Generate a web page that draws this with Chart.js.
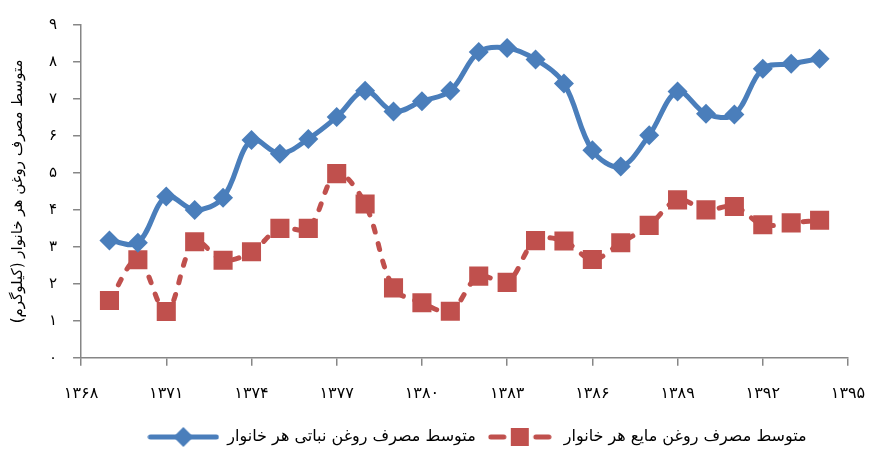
<!DOCTYPE html>
<html>
<head>
<meta charset="utf-8">
<script src="https://cdn.jsdelivr.net/npm/chart.js@4"></script>
<style>
  html, body { margin: 0; padding: 0; background: #fff; }
  #wrap { width: 869px; height: 450px; }
</style>
</head>
<body>
<div id="wrap"><canvas id="oilChart" width="869" height="450"></canvas></div>
<script>
// years 1369..1394
const years = [1369, 1370, 1371, 1372, 1373, 1374, 1375, 1376, 1377, 1378, 1379, 1380, 1381,
               1382, 1383, 1384, 1385, 1386, 1387, 1388, 1389, 1390, 1391, 1392, 1393, 1394];
// vegetable oil (kg)
const vegOil = [3.17, 3.11, 4.36, 4.0, 4.33, 5.89, 5.52, 5.92, 6.51, 7.22, 6.66, 6.94, 7.22,
                8.27, 8.38, 8.07, 7.42, 5.61, 5.17, 6.02, 7.2, 6.6, 6.58, 7.82, 7.95, 8.09];
// liquid oil (kg)
const liquidOil = [1.55, 2.65, 1.25, 3.14, 2.64, 2.87, 3.5, 3.5, 4.98, 4.16, 1.89, 1.49, 1.26,
                   2.21, 2.04, 3.17, 3.16, 2.66, 3.11, 3.58, 4.27, 4.0, 4.09, 3.6, 3.65, 3.72];
const seriesNames = ['متوسط مصرف روغن نباتی هر خانوار', 'متوسط مصرف روغن مایع هر خانوار'];
const yTitle = 'متوسط مصرف روغن هر خانوار (کیلوگرم)';
const xMin = 1368, xMax = 1395, xStep = 3;
const yMin = 0, yMax = 9;

const BLUE = '#4a7ebb';
const RED = '#c0504d';
const FONT = "'DejaVu Sans', sans-serif";

/* ===== helpers ===== */
function toFa(n) {
  return String(n).replace(/\d/g, d => '۰۱۲۳۴۵۶۷۸۹'[d]);
}
function pts(vals) {
  return years.map((y, i) => ({ x: y, y: vals[i] }));
}

// little legend symbols (line + marker)
function blueSymbol() {
  const c = document.createElement('canvas');
  c.width = 72; c.height = 22;
  const g = c.getContext('2d');
  g.strokeStyle = BLUE; g.lineWidth = 5; g.lineCap = 'round';
  g.beginPath(); g.moveTo(3, 11); g.lineTo(69, 11); g.stroke();
  g.fillStyle = BLUE;
  g.beginPath(); g.moveTo(36, 1); g.lineTo(46, 11); g.lineTo(36, 21); g.lineTo(26, 11); g.closePath(); g.fill();
  return c;
}
function redSymbol() {
  const c = document.createElement('canvas');
  c.width = 64; c.height = 22;
  const g = c.getContext('2d');
  g.strokeStyle = RED; g.lineWidth = 5; g.lineCap = 'round';
  g.beginPath(); g.moveTo(3, 11); g.lineTo(16, 11); g.stroke();
  g.beginPath(); g.moveTo(48, 11); g.lineTo(61, 11); g.stroke();
  g.fillStyle = RED;
  g.fillRect(23, 2, 18, 18);
  return c;
}

const legendSyms = [blueSymbol(), redSymbol()];

// nudge the legend a bit to the right, like the original
const legendShift = {
  id: 'legendShift',
  afterLayout(chart) {
    if (chart.legend) {
      chart.legend.left += 38;
      chart.legend.right += 38;
    }
  }
};

const ctx = document.getElementById('oilChart').getContext('2d');
new Chart(ctx, {
  type: 'line',
  data: {
    datasets: [{
      label: seriesNames[0],
      data: pts(vegOil),
      borderColor: BLUE,
      backgroundColor: BLUE,
      borderWidth: 5,
      tension: 0.35,
      pointStyle: 'rectRot',
      pointRadius: 10,
      pointBorderWidth: 0,
      pointBackgroundColor: BLUE
    }, {
      label: seriesNames[1],
      data: pts(liquidOil),
      borderColor: RED,
      backgroundColor: RED,
      borderWidth: 5,
      borderDash: [6, 12],
      borderCapStyle: 'round',
      tension: 0.35,
      pointStyle: 'rect',
      pointRadius: 13.5,
      pointBorderWidth: 0,
      pointBackgroundColor: RED
    }]
  },
  plugins: [legendShift],
  options: {
    responsive: false,
    animation: false,
    layout: { padding: { left: 9, right: 0, top: 8, bottom: -5 } },
    plugins: {
      tooltip: { enabled: false },
      legend: {
        position: 'bottom',
        labels: {
          usePointStyle: true,
          pointStyleWidth: 72,
          boxHeight: 16,
          padding: 8,
          color: '#000',
          font: { family: FONT, size: 16 },
          generateLabels: chart => chart.data.datasets.map((ds, i) => ({
            text: ds.label,
            pointStyle: legendSyms[i],
            fillStyle: ds.borderColor,
            strokeStyle: ds.borderColor,
            lineWidth: 0,
            datasetIndex: i
          }))
        }
      }
    },
    scales: {
      x: {
        type: 'linear',
        min: xMin,
        max: xMax,
        afterFit: s => { s.paddingRight = 21; },
        border: { color: '#868686', width: 1.5 },
        grid: { drawOnChartArea: false, drawTicks: true, tickLength: 8, color: '#868686', lineWidth: 1.5 },
        ticks: {
          stepSize: xStep,
          padding: 18,
          color: '#000',
          font: { family: FONT, size: 16 },
          callback: v => toFa(v)
        }
      },
      y: {
        min: yMin,
        max: yMax,
        border: { color: '#868686', width: 1.5 },
        grid: { drawOnChartArea: false, drawTicks: true, tickLength: 8, color: '#868686', lineWidth: 1.5 },
        title: {
          display: true,
          text: yTitle,
          color: '#000',
          font: { family: FONT, size: 15 },
          padding: { top: 0, bottom: 6 }
        },
        ticks: {
          stepSize: 1,
          padding: 16,
          color: '#000',
          font: { family: FONT, size: 15 },
          callback: v => toFa(v)
        }
      }
    }
  }
});
</script>
</body>
</html>
